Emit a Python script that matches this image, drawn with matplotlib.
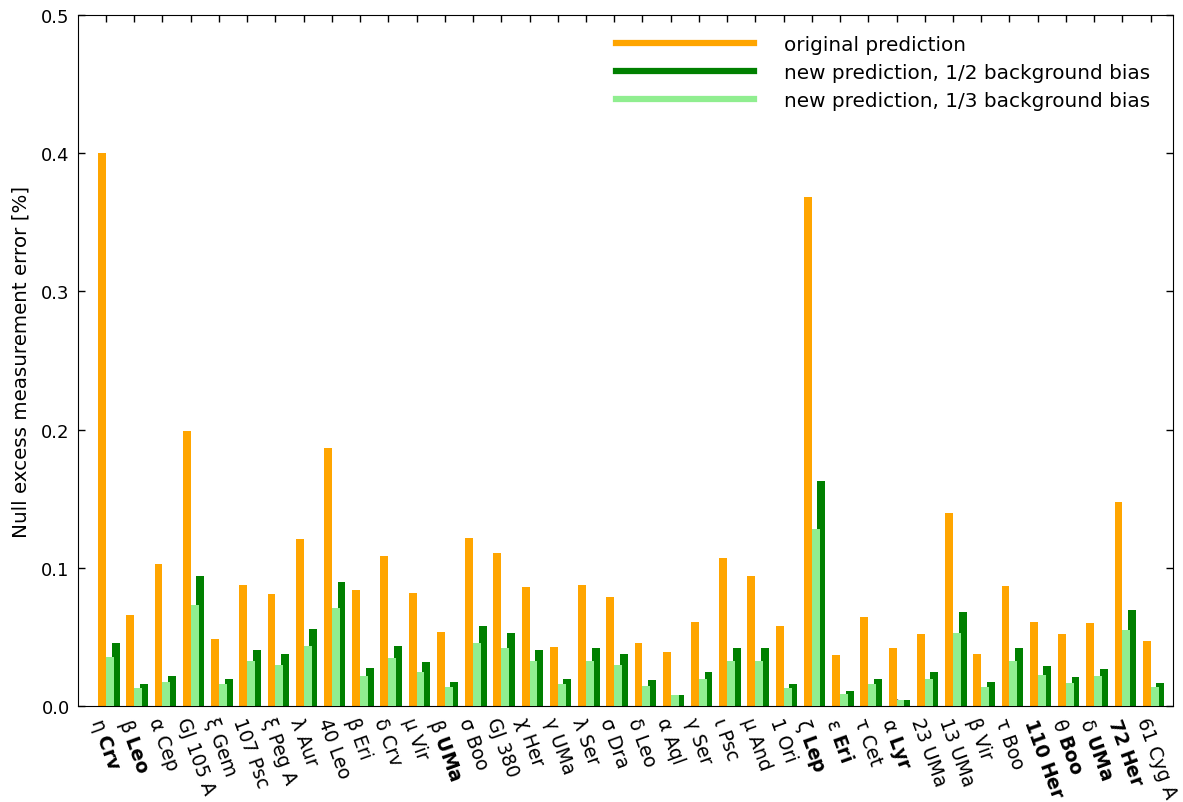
import matplotlib
matplotlib.use("Agg")
import matplotlib.pyplot as plt
from matplotlib.lines import Line2D
import numpy as np

stars = [
    "η $\\mathbf{Crv}$", "β $\\mathbf{Leo}$", "α Cep", "GJ 105 A", "ξ Gem", "107 Psc",
    "ξ Peg A", "λ Aur", "40 Leo", "β Eri", "δ Crv", "μ Vir", "β $\\mathbf{UMa}$",
    "σ Boo", "GJ 380", "χ Her", "γ UMa", "λ Ser", "σ Dra", "δ Leo", "α Aql",
    "γ Ser", "ι Psc", "μ And", "1 Ori", "ζ $\\mathbf{Lep}$", "ε $\\mathbf{Eri}$",
    "τ Cet", "α $\\mathbf{Lyr}$", "23 UMa", "13 UMa", "β Vir", "τ Boo",
    "$\\mathbf{110\\ Her}$", "θ $\\mathbf{Boo}$", "δ $\\mathbf{UMa}$",
    "$\\mathbf{72\\ Her}$", "61 Cyg A",
]

original = [
    0.400, 0.066, 0.103, 0.199, 0.049, 0.088, 0.081, 0.121, 0.187, 0.084,
    0.109, 0.082, 0.054, 0.122, 0.111, 0.086, 0.043, 0.088, 0.079, 0.046,
    0.039, 0.061, 0.107, 0.094, 0.058, 0.368, 0.037, 0.065, 0.042, 0.052,
    0.140, 0.038, 0.087, 0.061, 0.052, 0.060, 0.148, 0.047,
]

bias_half = [
    0.046, 0.016, 0.022, 0.094, 0.020, 0.041, 0.038, 0.056, 0.090, 0.028,
    0.044, 0.032, 0.018, 0.058, 0.053, 0.041, 0.020, 0.042, 0.038, 0.019,
    0.008, 0.025, 0.042, 0.042, 0.016, 0.163, 0.011, 0.020, 0.005, 0.025,
    0.068, 0.018, 0.042, 0.029, 0.021, 0.027, 0.070, 0.017,
]

bias_third = [
    0.036, 0.013, 0.018, 0.073, 0.016, 0.033, 0.030, 0.044, 0.071, 0.022,
    0.035, 0.025, 0.014, 0.046, 0.042, 0.033, 0.016, 0.033, 0.030, 0.015,
    0.008, 0.020, 0.033, 0.033, 0.013, 0.128, 0.009, 0.016, 0.005, 0.020,
    0.053, 0.014, 0.033, 0.023, 0.017, 0.022, 0.055, 0.014,
]

c_orig = "orange"
c_half = "green"
c_third = "lightgreen"

plt.rcParams["font.size"] = 13

fig, ax = plt.subplots(figsize=(11.83, 8.03), dpi=100)
fig.subplots_adjust(left=0.066, right=0.9915, top=0.9805, bottom=0.119)

x = np.arange(len(stars))
w = 0.28
ax.bar(x - w / 2, original, width=w, color=c_orig, zorder=2)
ax.bar(x + 0.2 + w / 2, bias_half, width=w, color=c_half, zorder=2)
ax.bar(x + w / 2, bias_third, width=w, color=c_third, zorder=3)

ax.set_xlim(-0.99, 37.79)
ax.set_ylim(0, 0.5)
ax.set_yticks([0.0, 0.1, 0.2, 0.3, 0.4, 0.5])
ax.set_yticklabels(["0.0", "0.1", "0.2", "0.3", "0.4", "0.5"])
ax.set_xticks(x)
ax.set_xticklabels(stars, rotation=-70, ha="left", va="top",
                   rotation_mode="anchor", fontsize=13.5)
ax.tick_params(direction="in", top=True, right=True, length=5, width=1,
               pad=6, labelsize=13)
ax.tick_params(axis="x", labelsize=13.5)
ax.set_ylabel("Null excess measurement error [%]", fontsize=14.3, labelpad=8)

handles = [
    Line2D([], [], color=c_orig, lw=4.5),
    Line2D([], [], color=c_half, lw=4.5),
    Line2D([], [], color=c_third, lw=4.5),
]
labels = [
    "original prediction",
    "new prediction, 1/2 background bias",
    "new prediction, 1/3 background bias",
]
ax.legend(handles, labels, loc="upper right", bbox_to_anchor=(1.0, 1.0045),
          frameon=False, handlelength=6.9, handletextpad=1.5,
          labelspacing=0.45, fontsize=14.4, borderaxespad=0.75)

fig.savefig("out.png", dpi=100)
